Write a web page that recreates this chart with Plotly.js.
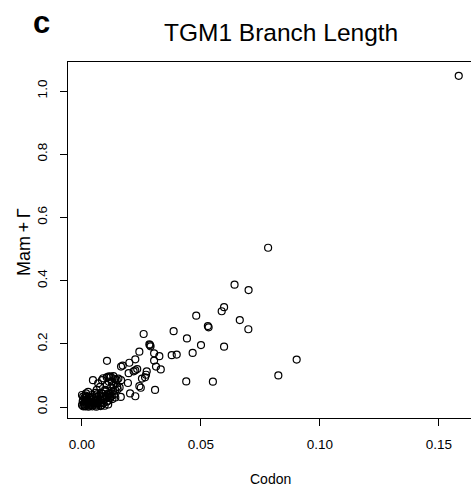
<!DOCTYPE html>
<html>
<head>
<meta charset="utf-8">
<script src="https://cdn.plot.ly/plotly-3.0.1.min.js"></script>
<style>
html, body { margin: 0; padding: 0; overflow: hidden; background: #fff; }
#chart { width: 476px; height: 489px; }
</style>
</head>
<body>
<div id="chart"></div>
<script>
// Codon branch length (x) vs Mam+Γ branch length (y), TGM1
const codon = [
  0.1583, 0.0782, 0.0641, 0.0700, 0.0597, 0.0587, 0.0480, 0.0663, 0.0529, 0.0532,
  0.0699, 0.0385, 0.0441, 0.0500, 0.0597, 0.0465, 0.0377, 0.0398, 0.0902, 0.0825,
  0.0438, 0.0550, 0.0307, 0.0286, 0.0283, 0.0288, 0.0303, 0.0325, 0.0303, 0.0311,
  0.0331, 0.0259, 0.0241, 0.0105, 0.0224, 0.0199, 0.0171, 0.0164, 0.0217, 0.0232,
  0.0224, 0.0272, 0.0269, 0.0265, 0.0252, 0.0196, 0.0241, 0.0247, 0.0193, 0.0202,
  0.0224, 0.0163, 0.0046, 0.0084, 0.0104, 0.0121, 0.0139, 0.0153, 0.0143, 0.0164,
  0.0113, 0.0132, 0.0123, 0.0150, 0.0158, 0.0076, 0.0062, 0.0097, 0.0111, 0.0089,
  0.0068, 0.0118, 0.0104, 0.0083, 0.0047, 0.0041, 0.0089, 0.0111, 0.0132, 0.0146,
  0.0125, 0.0104, 0.0068, 0.0026, 0.0017, 0.0000, 0.0005, 0.0000, 0.0034, 0.0062,
  0.0089, 0.0118, 0.0139, 0.0148, 0.0115,
  0.0005, 0.0010, 0.0008, 0.0015, 0.0020, 0.0012, 0.0025, 0.0030, 0.0018, 0.0035,
  0.0040, 0.0028, 0.0022, 0.0045, 0.0050, 0.0038, 0.0010, 0.0005, 0.0055, 0.0060,
  0.0048, 0.0065, 0.0070, 0.0032, 0.0075, 0.0080, 0.0058, 0.0085, 0.0090, 0.0095,
  0.0100, 0.0072, 0.0042, 0.0015, 0.0105, 0.0110, 0.0115, 0.0120, 0.0125, 0.0003,
  0.0013, 0.0027, 0.0043, 0.0060, 0.0078, 0.0020, 0.0062, 0.0088, 0.0130, 0.0135,
  0.0100, 0.0080, 0.0055, 0.0140, 0.0128, 0.0095, 0.0110
];
const mamGamma = [
  1.048, 0.504, 0.387, 0.370, 0.316, 0.303, 0.289, 0.275, 0.256, 0.252,
  0.246, 0.240, 0.217, 0.196, 0.191, 0.171, 0.164, 0.166, 0.150, 0.100,
  0.081, 0.080, 0.054, 0.196, 0.198, 0.192, 0.170, 0.161, 0.147, 0.128,
  0.119, 0.231, 0.175, 0.146, 0.151, 0.140, 0.131, 0.128, 0.113, 0.120,
  0.116, 0.113, 0.102, 0.094, 0.090, 0.107, 0.066, 0.061, 0.076, 0.043,
  0.034, 0.032, 0.085, 0.085, 0.094, 0.096, 0.088, 0.090, 0.075, 0.085,
  0.080, 0.070, 0.062, 0.056, 0.062, 0.064, 0.054, 0.054, 0.043, 0.033,
  0.022, 0.028, 0.017, 0.006, 0.012, 0.033, 0.091, 0.096, 0.098, 0.085,
  0.080, 0.070, 0.075, 0.048, 0.043, 0.038, 0.022, 0.006, 0.017, 0.012,
  0.022, 0.033, 0.054, 0.064, 0.096,
  0.002, 0.005, 0.010, 0.003, 0.008, 0.015, 0.012, 0.004, 0.020, 0.010,
  0.006, 0.018, 0.025, 0.015, 0.008, 0.022, 0.028, 0.033, 0.020, 0.005,
  0.027, 0.015, 0.010, 0.030, 0.025, 0.014, 0.030, 0.030, 0.012, 0.025,
  0.035, 0.036, 0.038, 0.036, 0.030, 0.020, 0.040, 0.045, 0.035, 0.018,
  0.002, 0.001, 0.002, 0.001, 0.003, 0.032, 0.040, 0.042, 0.050, 0.040,
  0.050, 0.045, 0.045, 0.030, 0.025, 0.004, 0.008
];
const xTickVals = [0.00, 0.05, 0.10, 0.15];
const xTickText = ['0.00', '0.05', '0.10', '0.15'];
const yTickVals = [0.0, 0.2, 0.4, 0.6, 0.8, 1.0];
const yTickText = ['0.0', '0.2', '0.4', '0.6', '0.8', '1.0'];

const FONT = 'Liberation Sans, Arial, Helvetica, sans-serif';

const trace = {
  type: 'scatter',
  mode: 'markers',
  x: codon,
  y: mamGamma,
  marker: { symbol: 'circle-open', size: 7, color: '#000', line: { width: 1.2, color: '#000' } },
  hoverinfo: 'skip'
};

const axisCommon = {
  showgrid: false, zeroline: false,
  showline: true, mirror: true, linecolor: '#000', linewidth: 1,
  ticks: 'outside', ticklen: 7, tickwidth: 1, tickcolor: '#000',
  tickfont: { family: FONT, size: 13.5, color: '#000' },
  tickmode: 'array'
};

const layout = {
  width: 476, height: 489,
  margin: { l: 68, r: 3, t: 62, b: 71 },
  paper_bgcolor: '#fff', plot_bgcolor: '#fff',
  showlegend: false,
  xaxis: Object.assign({}, axisCommon, {
    range: [-0.00588, 0.16429],
    tickvals: xTickVals, ticktext: xTickText,
    ticklabelstandoff: 7
  }),
  yaxis: Object.assign({}, axisCommon, {
    range: [-0.0348, 1.0918],
    tickvals: yTickVals, ticktext: yTickText,
    tickangle: -90,
    ticklabelstandoff: 8
  }),
  annotations: [
    { text: '<b>c</b>', xref: 'paper', yref: 'paper', x: -0.0654, y: 1.112,
      xanchor: 'center', yanchor: 'middle', showarrow: false,
      font: { family: FONT, size: 31, color: '#000' } },
    { text: 'TGM1 Branch Length', xref: 'paper', yref: 'paper', x: 0.526, y: 1.0815,
      xanchor: 'center', yanchor: 'middle', showarrow: false,
      font: { family: FONT, size: 24.5, color: '#000' } },
    { text: 'Codon', xref: 'paper', yref: 'paper', x: 0.4988, y: -0.170,
      xanchor: 'center', yanchor: 'middle', showarrow: false,
      font: { family: FONT, size: 14, color: '#000' } },
    { text: 'Mam\u2009+\u2009Γ', xref: 'paper', yref: 'paper', x: -0.1086, y: 0.4945,
      xanchor: 'center', yanchor: 'middle', showarrow: false, textangle: -90,
      font: { family: FONT, size: 18, color: '#000' } }
  ]
};

Plotly.newPlot('chart', [trace], layout, { displayModeBar: false, staticPlot: true });
</script>
</body>
</html>
